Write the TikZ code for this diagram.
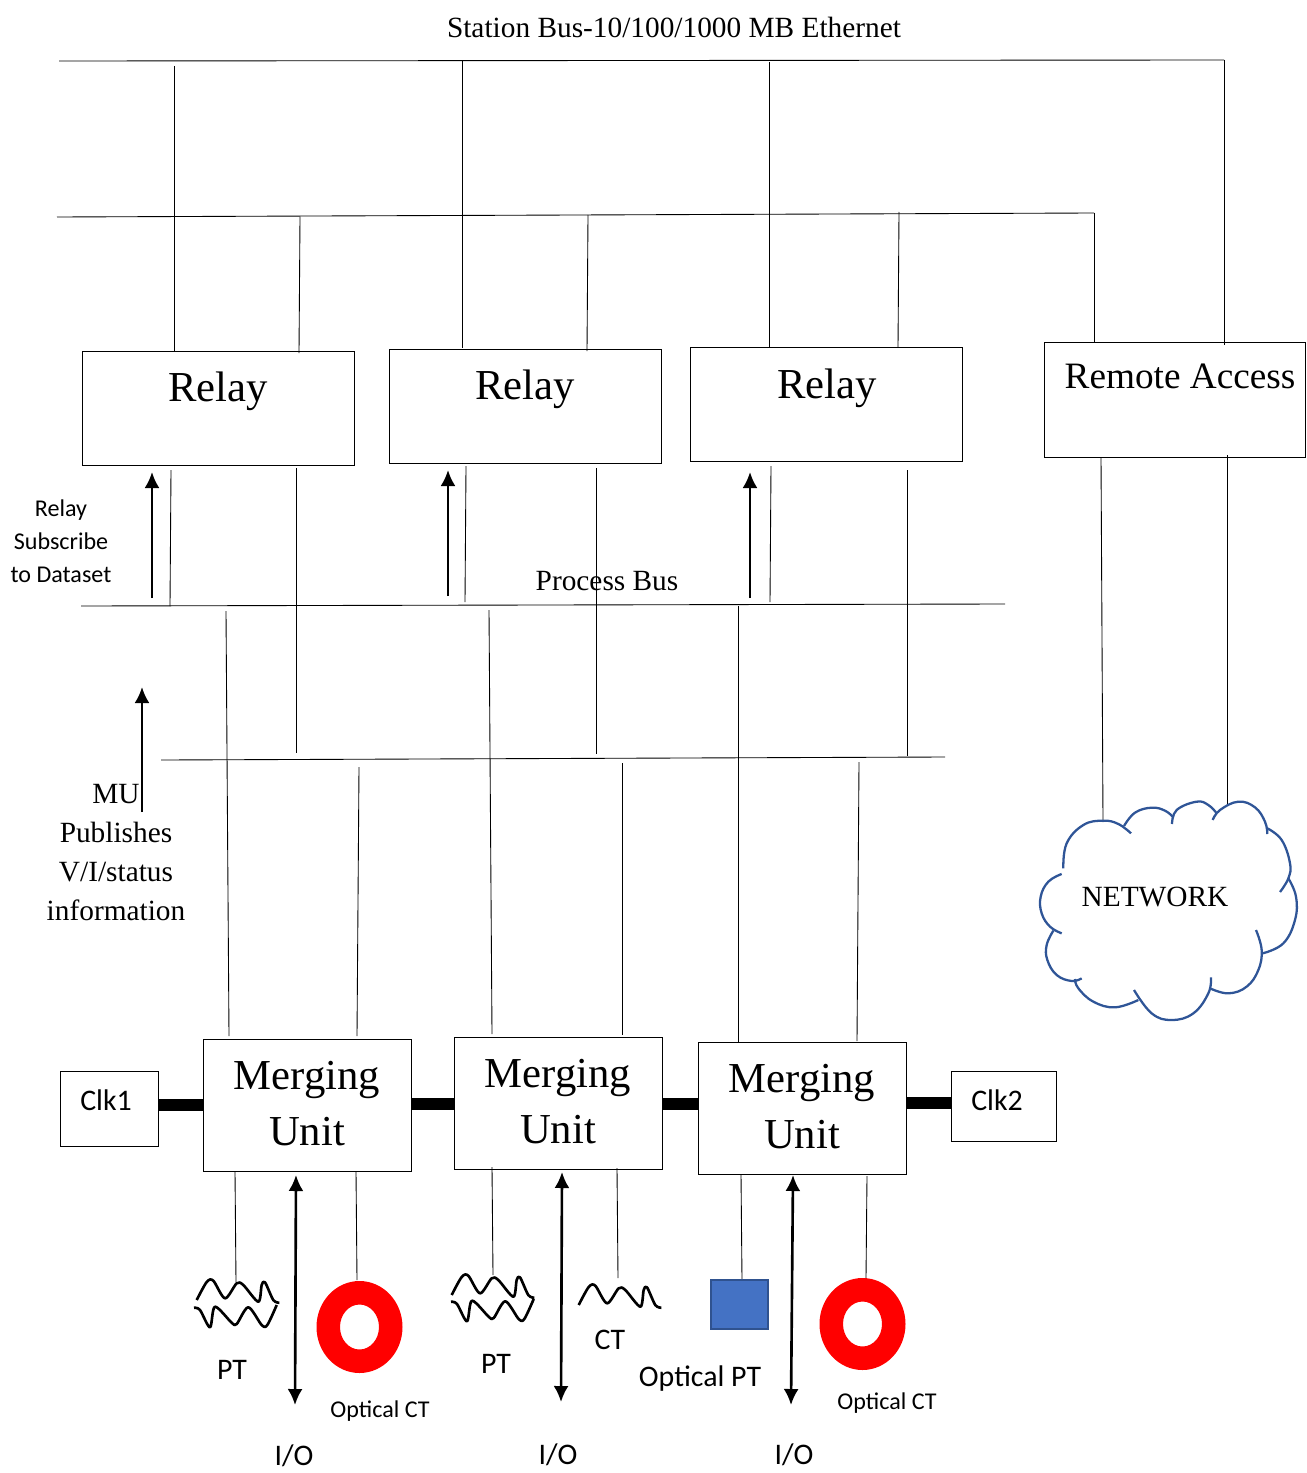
\documentclass[tikz,border=0pt]{standalone}
\usepackage{fontspec}
\setmainfont{Liberation Serif}
\newfontfamily\calibrifont{Carlito}
\usepackage{tikz}
\usetikzlibrary{arrows.meta}
\tikzstyle{box}=[draw=black, line width=0.5pt, rectangle, inner sep=0pt]
\tikzstyle{relaybox}=[box, minimum width=5.44cm, minimum height=2.28cm]
\tikzstyle{mubox}=[box, minimum width=4.16cm, minimum height=2.64cm, align=center, text depth=0.08cm, font=\fontsize{24.3}{32}\selectfont]
\tikzstyle{wire}=[draw=black, line width=0.5pt]
\tikzstyle{link}=[draw=black, line width=6.8pt]
\tikzstyle{arrow}=[draw=black, line width=1.5pt, >={Latex[length=3.2mm, width=3mm]}]
\tikzstyle{serif}=[inner sep=0pt, font=\fontsize{16.7}{22.2}\selectfont]
\tikzstyle{bigserif}=[inner sep=0pt, font=\fontsize{24.3}{30}\selectfont]
\tikzstyle{calibri}=[inner sep=0pt, font=\calibrifont\fontsize{17}{20}\selectfont]
\tikzstyle{calibrismall}=[inner sep=0pt, align=center, font=\calibrifont\fontsize{13.7}{18.7}\selectfont]
\tikzstyle{cloudline}=[draw=cloudblue, line width=1.3pt]
\tikzstyle{coilline}=[draw=black, line width=1.5pt, line join=round]
\definecolor{cloudblue}{HTML}{2F5597}
\definecolor{squareblue}{HTML}{4472C4}
\definecolor{squareedge}{HTML}{2F528F}
\tikzset{
  coiltop/.pic={\draw[coilline] plot[smooth, tension=0.5] coordinates {(16.7,50) (26.7,32) (33.3,30.7) (45,48.3) (56.7,33.3) (63.3,35) (78.3,51.7) (81.7,35) (85,32.3) (93.3,50) (99.3,52.7)};},
  coilbottom/.pic={\draw[coilline] plot[smooth, tension=0.5] coordinates {(14,57.7) (20,60) (30,77.3) (35,56.7) (51.7,72.7) (56.7,74) (68.3,57.3) (81.7,75) (87.3,75) (96.7,55)};}
}
\begin{document}
\begin{tikzpicture}[x=0.02cm, y=-0.02cm]
	\useasboundingbox (0,0) rectangle (1307,1473);
	% boxes
	\begin{scope}
		\node (relay1) at (218,408)[relaybox] {};
		\node (relay2) at (525,406)[relaybox] {};
		\node (relay3) at (826.5,404)[relaybox] {};
		\node (remote) at (1175,399.5)[box, minimum width=5.22cm, minimum height=2.3cm] {};
		\node (mu1) at (307,1105)[mubox] {Merging\\Unit};
		\node (mu2) at (558,1103)[mubox] {Merging\\Unit};
		\node (mu3) at (802,1108)[mubox] {Merging\\Unit};
		\node (clk1) at (109.5,1108.5)[box, minimum width=1.96cm, minimum height=1.5cm] {};
		\node (clk2) at (1004,1106)[box, minimum width=2.1cm, minimum height=1.4cm] {};
	\end{scope}
	% wires
	\foreach \name/\xa/\ya/\xb/\yb in {
		station/59/61/1224/60, stationr/1224/60/1224/345,
		s1/174/66/174/352, s2/462/61/462/348, s3/769/62/769/347,
		second/57/217/1094/213, secondr/1094/213/1094/342,
		t1/300/217/299/353, t2/588/215/587/351, t3/899/212/898/347,
		p1/171/470/170/606, p2/466/466/465/602, p3/771/466/770/602,
		q1/296/468/296/753, q2/596/468/596/754, q3/907/470/907/756,
		process/81/606/1005/604, lower/161/760/945/757,
		m1/226/611/229/1036, m2/489/610/492/1034, m3/738/606/738/1042,
		n1/359/767/357/1036, n2/622/763/622/1035, n3/859/762/857/1041,
		r1/1101/458/1103/822, r2/1227/455/1227/805,
		u1/235/1171/236/1282, u2/356/1171/357/1280, u3/492/1167/493/1275,
		u4/617/1168/618/1278, u5/741/1174/742/1280, u6/867/1176/866/1278}
	{
		\coordinate (\name a) at (\xa,\ya);
		\coordinate (\name b) at (\xb,\yb);
		\path[wire] (\name a) -- (\name b);
	}
	% thick links
	\foreach \name/\xa/\xb/\y in {la/159/203/1105, lb/411/454/1104, lc/662/698/1104, ld/906/952/1103}
	{
		\coordinate (\name a) at (\xa,\y);
		\coordinate (\name b) at (\xb,\y);
		\path[link] (\name a) -- (\name b);
	}
	% arrows
	\foreach \name/\xa/\ya/\xb/\yb in {up1/152/598/152/472, up2/448/596/448/470, up3/750/598/750/472, up4/142/812/142/687}
	{
		\coordinate (\name a) at (\xa,\ya);
		\coordinate (\name b) at (\xb,\yb);
		\path[arrow, ->] (\name a) -- (\name b);
	}
	\foreach \name/\xa/\ya/\xb/\yb in {io1/296/1175/295/1405, io2/562/1172/561/1402, io3/793/1175/791/1405}
	{
		\coordinate (\name a) at (\xa,\ya);
		\coordinate (\name b) at (\xb,\yb);
		\path[arrow, <->] (\name a) -- (\name b);
	}
	% sensors
	\fill[red, even odd rule] (359.5,1327) ellipse (43 and 46) (359.5,1327) ellipse (19.5 and 22.5);
	\fill[red, even odd rule] (862.5,1324) ellipse (43 and 46) (862.5,1324) ellipse (19.5 and 22.5);
	\node (square) at (739.5,1304.5)[draw=squareedge, fill=squareblue, line width=1pt, minimum width=1.14cm, minimum height=0.98cm, inner sep=0pt] {};
	\pic at (180,1250) {coiltop};
	\pic at (180,1250) {coilbottom};
	\pic at (435,1245) {coiltop};
	\pic at (437,1244) {coilbottom};
	\pic at (562,1255) {coiltop};
	% cloud
	\begin{scope}[shift={(1020,780)}, x=0.00667cm, y=-0.00667cm]
		\foreach \arc in {
			{(130,265) (140,190) (190,135) (250,122) (295,132) (333,160)},
			{(312,138) (345,98) (395,83) (435,92) (460,112)},
			{(456,132) (470,90) (530,65) (565,75) (590,100)},
			{(578,120) (600,90) (655,65) (705,82) (735,125) (742,162)},
			{(742,145) (785,180) (810,250) (805,295) (780,336)},
			{(805,295) (828,350) (825,420) (790,490) (728,520)},
			{(708,450) (725,510) (715,570) (680,620) (625,640) (570,625)},
			{(573,592) (565,640) (520,700) (455,720) (395,700) (342,630)},
			{(355,660) (285,682) (220,665) (175,625) (165,597)},
			{(185,595) (155,603) (110,585) (82,540) (80,495) (100,452)},
			{(125,460) (90,440) (65,400) (62,350) (85,305) (125,282)}}
		{
			\path[cloudline] plot[smooth, tension=0.7] coordinates {\arc};
		}
	\end{scope}
	% labels
	\node (stationtxt) at (674,27)[serif] {Station Bus-10/100/1000 MB Ethernet};
	\node (relay1txt) at (218,391)[bigserif] {Relay};
	\node (relay2txt) at (525,389)[bigserif] {Relay};
	\node (relay3txt) at (827,388)[bigserif] {Relay};
	\node (remotetxt) at (1180,376)[serif, font=\fontsize{21.2}{25}\selectfont] {Remote Access};
	\node (processtxt) at (607,581)[serif] {Process Bus};
	\node (networktxt) at (1155,897)[serif] {NETWORK};
	\node (mutxt) at (116,853)[serif, align=center] {MU\\Publishes\\V/I/status\\information};
	\node (subscribetxt) at (61,541)[calibrismall] {Relay\\Subscribe\\to Dataset};
	\node (clk1txt) at (106,1100)[calibri] {Clk1};
	\node (clk2txt) at (997,1100)[calibri] {Clk2};
	\node (pt1txt) at (232,1370)[calibri] {PT};
	\node (pt2txt) at (496,1364)[calibri] {PT};
	\node (cttxt) at (610,1340)[calibri] {CT};
	\node (optpttxt) at (700,1379)[calibri] {Optical PT};
	\node (optct1txt) at (380,1411)[calibrismall] {Optical CT};
	\node (optct2txt) at (887,1403)[calibrismall] {Optical CT};
	\node (io1txt) at (294,1456)[calibri] {I/O};
	\node (io2txt) at (558,1455)[calibri] {I/O};
	\node (io3txt) at (794,1455)[calibri] {I/O};
\end{tikzpicture}
\end{document}
